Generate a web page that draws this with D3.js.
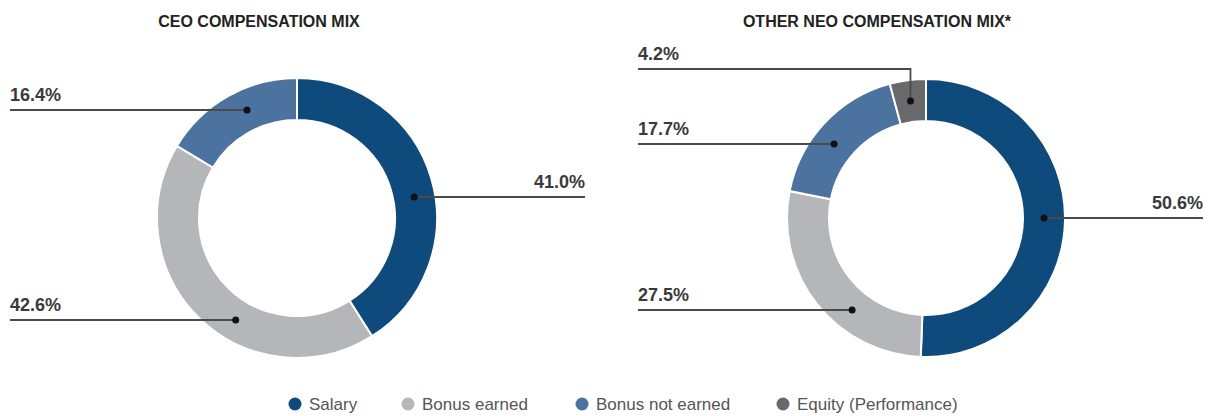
<!DOCTYPE html>
<html>
<head>
<meta charset="utf-8">
<script src="https://cdn.jsdelivr.net/npm/d3@7"></script>
<style>
  body { margin: 0; background: #fff; }
  text { font-family: "Liberation Sans", Arial, sans-serif; }
</style>
</head>
<body>
<div id="donuts"></div>
<script>
const categories = ["Salary", "Bonus earned", "Bonus not earned", "Equity (Performance)"];
const ceoValues = [41.0, 42.6, 16.4];
const neoValues = [50.6, 27.5, 17.7, 4.2];
const titles = ["CEO COMPENSATION MIX", "OTHER NEO COMPENSATION MIX*"];

const width = 1212, height = 416;
const colors = ["#0f4a7c", "#b5b6ba", "#4c72a0", "#68696b"];

// layout of each donut and where its leader lines sit
const charts = [
  {values: ceoValues, title: titles[0], cx: 297, cy: 218, r: 140, titleX: 259,
   leaders: [{side: "right", y: 197, end: 585},
             {side: "left", y: 320, end: 10},
             {side: "left", y: 110, end: 10}]},
  {values: neoValues, title: titles[1], cx: 926, cy: 218, r: 139, titleX: 877,
   leaders: [{side: "right", y: 218, end: 1203},
             {side: "left", y: 310, end: 638},
             {side: "left", y: 144, end: 638},
             {side: "elbow", y: 69, end: 638}]}
];

const svg = d3.select("#donuts")
  .append("svg")
  .attr("width", width)
  .attr("height", height)
  .attr("viewBox", [0, 0, width, height]);

const pie = d3.pie().sort(null).value(d => d);
const color = d3.scaleOrdinal(categories, colors);

charts.forEach(c => {
  const inner = c.r - 42;
  const mid = (c.r + inner) / 2;
  const arc = d3.arc().innerRadius(inner).outerRadius(c.r);
  const arcs = pie(c.values);

  svg.append("text")
    .attr("x", c.titleX)
    .attr("y", 27)
    .attr("text-anchor", "middle")
    .attr("font-size", 16)
    .attr("font-weight", "bold")
    .attr("fill", "#222")
    .text(c.title);

  const g = svg.append("g")
    .attr("transform", `translate(${c.cx},${c.cy})`);

  g.selectAll("path")
    .data(arcs)
    .join("path")
    .attr("d", arc)
    .attr("fill", (d, i) => color(categories[i]))
    .attr("stroke", "#fff")
    .attr("stroke-width", 2);

  arcs.forEach((d, i) => {
    const L = c.leaders[i];
    let dot, pts, anchor;
    if (L.side === "elbow") {
      const a = (d.startAngle + d.endAngle) / 2;
      dot = [c.cx + mid * Math.sin(a), c.cy - mid * Math.cos(a)];
      pts = [[L.end, L.y], [dot[0], L.y], dot];
      anchor = "start";
    } else {
      const dy = L.y - c.cy;
      const dx = Math.sqrt(mid * mid - dy * dy) * (L.side === "right" ? 1 : -1);
      dot = [c.cx + dx, L.y];
      pts = [[L.end, L.y], dot];
      anchor = L.side === "right" ? "end" : "start";
    }
    svg.append("path")
      .attr("d", d3.line()(pts))
      .attr("fill", "none")
      .attr("stroke", "#4a4a4a")
      .attr("stroke-width", 1.8);
    svg.append("circle")
      .attr("cx", dot[0])
      .attr("cy", dot[1])
      .attr("r", 3.5)
      .attr("fill", "#111");
    svg.append("text")
      .attr("x", L.end)
      .attr("y", L.y - 9)
      .attr("text-anchor", anchor)
      .attr("font-size", 18)
      .attr("font-weight", "bold")
      .attr("fill", "#3a3a3a")
      .text(d3.format(".1f")(d.data) + "%");
  });
});

// legend
const legendX = [295, 408, 582, 783];
const legendGroup = svg.selectAll(".legend-group")
  .data(categories)
  .join("g")
  .attr("class", "legend-group")
  .attr("transform", (d, i) => `translate(${legendX[i]},404)`);

legendGroup.append("circle")
  .attr("r", 6.5)
  .attr("fill", d => color(d));

legendGroup.append("text")
  .attr("x", 14)
  .attr("y", 6)
  .attr("font-size", 17)
  .attr("fill", "#555")
  .text(d => d);
</script>
</body>
</html>
